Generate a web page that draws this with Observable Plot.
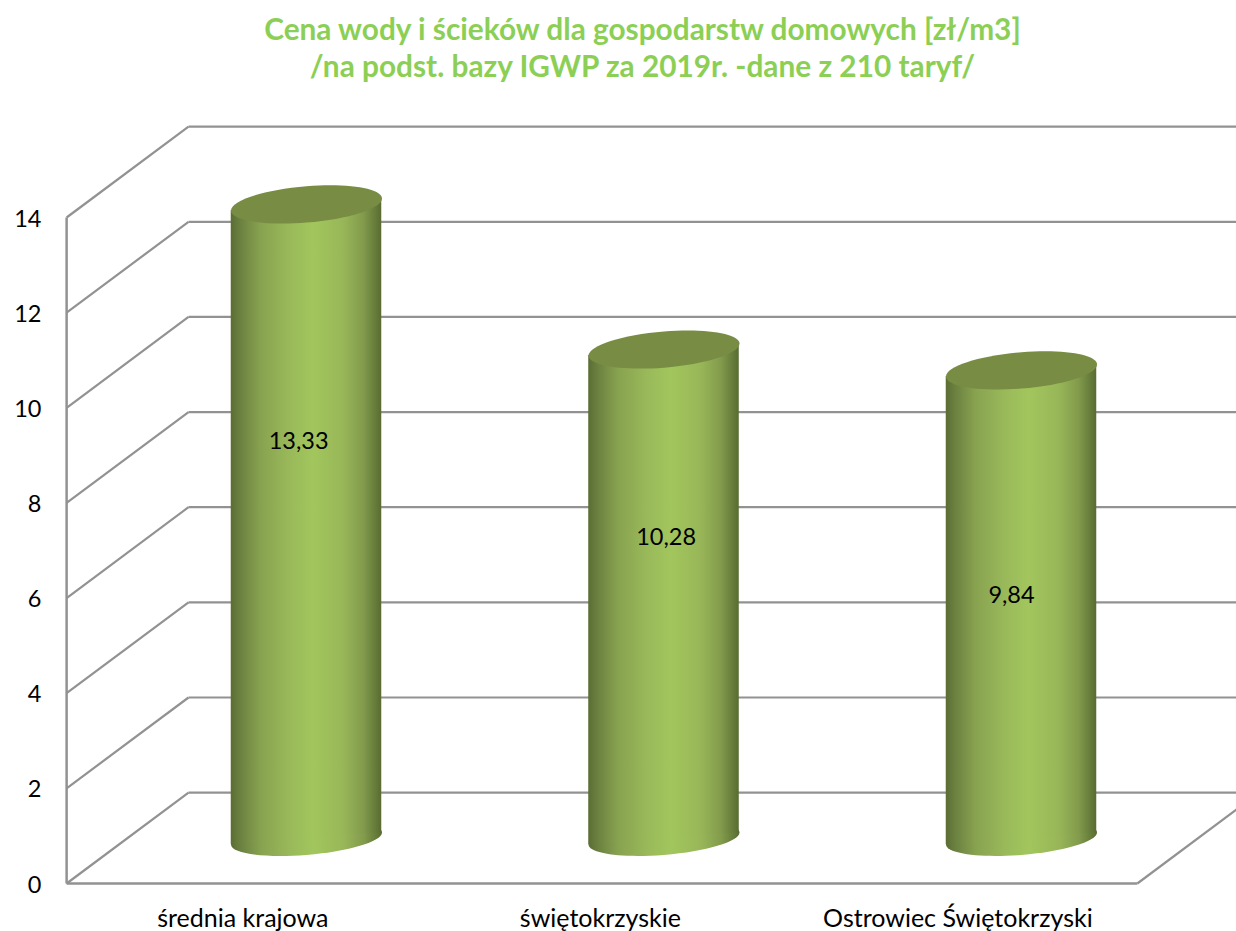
<!DOCTYPE html>
<html>
<head>
<meta charset="utf-8">
<script src="https://cdn.jsdelivr.net/npm/d3@7"></script>
<script src="https://cdn.jsdelivr.net/npm/@observablehq/plot@0.6"></script>
<style>
  html, body { margin: 0; padding: 0; background: #fff; }
  #title { height: 96px; box-sizing: border-box; padding-top: 10px; text-align: center; margin: 0;
    font: bold 29.8px/37px Lato, sans-serif; color: #8ccf55; width: 1285px; }
  svg { display: block; }
</style>
</head>
<body>
<h1 id="title">Cena wody i ścieków dla gospodarstw domowych [zł/m3]<br>/na podst. bazy IGWP za 2019r. -dane z 210 taryf/</h1>
<div id="chart"></div>
<script>
const categories = ["średnia krajowa", "świętokrzyskie", "Ostrowiec Świętokrzyski"];
const values = [13.33, 10.28, 9.84];
const valueLabels = ["13,33", "10,28", "9,84"];
const labelX = [-0.022, 1.006, 1.972];
const labelY = [9.29, 7.27, 6.05];
const yTicks = [0, 2, 4, 6, 8, 10, 12, 14];

// Pseudo-3D geometry, in scale units
const wallLeft = -0.671, wallRight = 2.324, depthX = 0.341, depthY = 1.91;
const barBase = 0.945, halfWidth = 0.2105, tilt = 0.126, categoryShift = -0.178, categoryY = -0.755;

const rows = categories.map((name, i) => ({name, i, value: values[i], top: values[i] + barBase, label: valueLabels[i]}));
const sides = rows.flatMap(d => [
  {name: d.name, x: d.i - halfWidth, y1: barBase - tilt, y2: d.top - tilt},
  {name: d.name, x: d.i + halfWidth, y1: barBase + tilt, y2: d.top + tilt}
]);

// Sheared ellipse seen in perspective, drawn as a Plot dot symbol
const ellipse = (flat) => ({
  draw(c, size) {
    const a = Math.sqrt(size / Math.PI), b = a * flat, s = a * 0.08, k = 0.5523;
    const P = (u, v) => [a * u, b * v - s * u];
    const seg = (p1, p2, p3) => c.bezierCurveTo(...P(...p1), ...P(...p2), ...P(...p3));
    c.moveTo(...P(1, 0));
    seg([1, k], [k, 1], [0, 1]);
    seg([-k, 1], [-1, k], [-1, 0]);
    seg([-1, -k], [-k, -1], [0, -1]);
    seg([k, -1], [1, -k], [1, 0]);
    c.closePath();
  }
});

const defs = () => {
  const d = d3.create("svg:defs");
  const g = d.append("linearGradient").attr("id", "cyl").attr("x1", 0).attr("x2", 1).attr("y1", 0).attr("y2", 0);
  [[0, "#5a6d33"], [0.06, "#6a8040"], [0.2, "#88a350"], [0.4, "#9aba5a"], [0.55, "#a2c65d"], [0.75, "#98b658"], [0.88, "#829b4c"], [0.96, "#667c3a"], [1, "#596b32"]]
    .forEach(([o, col]) => g.append("stop").attr("offset", o).attr("stop-color", col));
  return d.node();
};

const gridColor = "#929292";
const chart = Plot.plot({
  width: 1236,
  height: 835,
  marginLeft: 66, marginRight: 0, marginTop: 0, marginBottom: 0,
  x: {domain: [0, 2], range: [306, 1021], axis: null},
  y: {domain: [0, 14], range: [787, 121], axis: null},
  style: {fontFamily: "Lato, sans-serif", background: "#fff", color: "#000"},
  marks: [
    defs,
    // left wall diagonals
    Plot.link(yTicks, {x1: wallLeft, x2: wallLeft + depthX, y1: d => d, y2: d => d + depthY, stroke: gridColor, strokeWidth: 2.2}),
    // back wall gridlines
    Plot.link(yTicks, {x1: wallLeft + depthX, x2: wallRight + depthX, y1: d => d + depthY, y2: d => d + depthY, stroke: gridColor, strokeWidth: 2.2}),
    // left wall edge
    Plot.link([0], {x1: wallLeft, x2: wallLeft, y1: 0, y2: 14, stroke: gridColor, strokeWidth: 2.5}),
    // floor
    Plot.link([0], {x1: wallLeft, x2: wallRight, y1: 0, y2: 0, stroke: gridColor, strokeWidth: 2.5}),
    Plot.link([0], {x1: wallRight, x2: wallRight + depthX, y1: 0, y2: depthY, stroke: gridColor, strokeWidth: 2.2}),
    Plot.axisY(yTicks, {anchor: "left", tickSize: 0, tickPadding: 25, fontSize: 23.5, dy: 1.5, label: null, tickFormat: d => String(d)}),
    // cylinders
    Plot.dot(rows, {x: "i", y: barBase, r: 75.5, symbol: ellipse(0.217), fill: "url(#cyl)"}),
    Plot.areaY(sides, {x: "x", y1: "y1", y2: "y2", z: "name", fill: "url(#cyl)"}),
    Plot.dot(rows, {x: "i", y: "top", r: 75.5, symbol: ellipse(0.24), fill: "#788c44"}),
    Plot.text(rows, {x: (d, i) => labelX[i], y: (d, i) => labelY[i], text: "label", fontSize: 23.5, fill: "#000"}),
    Plot.text(rows, {x: d => d.i + categoryShift, y: categoryY, text: "name", fontSize: 25, fill: "#000"})
  ]
});
document.getElementById("chart").append(chart);
</script>
</body>
</html>
